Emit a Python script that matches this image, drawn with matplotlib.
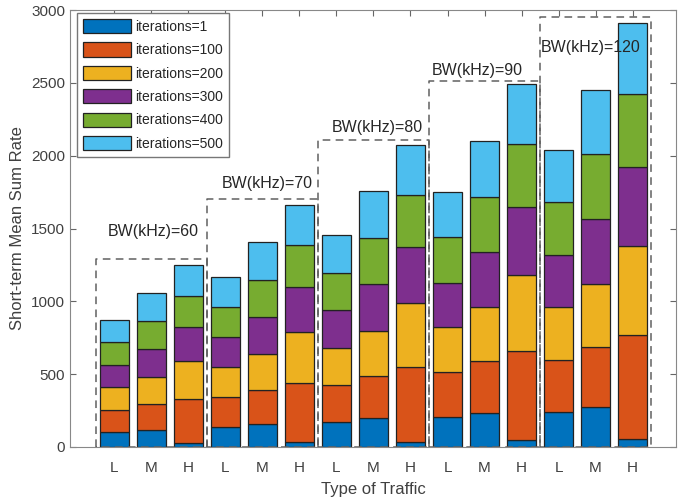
import matplotlib
matplotlib.use('Agg')
import matplotlib.pyplot as plt
import numpy as np

# 各トラフィック種別 (帯域ごとに L, M, H)
traffic = ['L', 'M', 'H'] * 5
bw_labels = ['BW(kHz)=60', 'BW(kHz)=70', 'BW(kHz)=80', 'BW(kHz)=90', 'BW(kHz)=120']
series_names = ['iterations=1', 'iterations=100', 'iterations=200',
                'iterations=300', 'iterations=400', 'iterations=500']

# 積み上げ各段の増分
it1 = [101, 117, 25, 135, 158, 32, 170, 197, 36, 208, 235, 48, 240, 275, 53]
it100 = [155, 176, 302, 208, 233, 405, 253, 292, 511, 305, 355, 608, 357, 413, 714]
it200 = [154, 187, 261, 204, 247, 350, 259, 309, 439, 309, 369, 522, 362, 431, 610]
it300 = [153, 190, 234, 206, 252, 309, 258, 318, 384, 306, 379, 467, 357, 444, 543]
it400 = [156, 193, 217, 206, 256, 288, 256, 316, 360, 311, 380, 432, 363, 446, 503]
it500 = [153, 192, 208, 206, 259, 276, 259, 323, 345, 309, 384, 412, 359, 445, 485]

# 破線枠の高さ
box_tops = [1290, 1700, 2110, 2510, 2950]

colors = ['#0072BD', '#D95319', '#EDB120', '#7E2F8E', '#77AC30', '#4DBEEE']

plt.rcParams['font.family'] = ['Liberation Sans', 'DejaVu Sans']
text_color = '#404040'

fig = plt.figure(figsize=(6.99, 5.0), dpi=100)
ax = fig.add_axes([0.100, 0.106, 0.867, 0.874])

x = np.arange(1, len(traffic) + 1)
bottom = np.zeros(len(traffic))
for vals, name, c in zip([it1, it100, it200, it300, it400, it500], series_names, colors):
    ax.bar(x, vals, width=0.8, bottom=bottom, color=c, edgecolor='#222222',
           linewidth=0.9, label=name, zorder=2)
    bottom += np.array(vals)

# 帯域ごとの破線枠とラベル
label_pos = [(0.83, 1476), (3.91, 1812), (6.88, 2190), (9.58, 2587), (12.53, 2745)]
for i, top in enumerate(box_tops):
    left = 0.5 + 3 * i
    ax.plot([left, left, left + 3, left + 3, left], [0, top, top, 0, 0],
            linestyle=(0, (5, 3.5)), color='#606060', linewidth=1.1, zorder=3,
            clip_on=False)
    ax.text(label_pos[i][0], label_pos[i][1], bw_labels[i], ha='left', va='center',
            fontsize=11.5, color='#262626', zorder=4)

ax.set_xlim(-0.2, 16.17)
ax.set_ylim(0, 3000)
ax.set_xticks(x)
ax.set_xticklabels(traffic)
ax.set_yticks(np.arange(0, 3001, 500))
ax.tick_params(direction='in', top=True, right=True, labelsize=11,
               colors='#666666', labelcolor=text_color, length=4)
ax.tick_params(axis='x', pad=10)
for s in ax.spines.values():
    s.set_color('#888888')
    s.set_zorder(5)

ax.set_xlabel('Type of Traffic', fontsize=12, color=text_color, labelpad=5)
ax.set_ylabel('Short-term Mean Sum Rate', fontsize=12, color=text_color)

leg = ax.legend(loc='upper left', bbox_to_anchor=(0.012, 0.994), borderaxespad=0,
                fontsize=10, handlelength=3.4, handleheight=1.2, labelspacing=0.62,
                handletextpad=0.3, borderpad=0.45, fancybox=False, framealpha=1,
                edgecolor='#777777')
for t in leg.get_texts():
    t.set_color('#262626')
leg.set_zorder(6)

plt.savefig('out.png', dpi=100)
